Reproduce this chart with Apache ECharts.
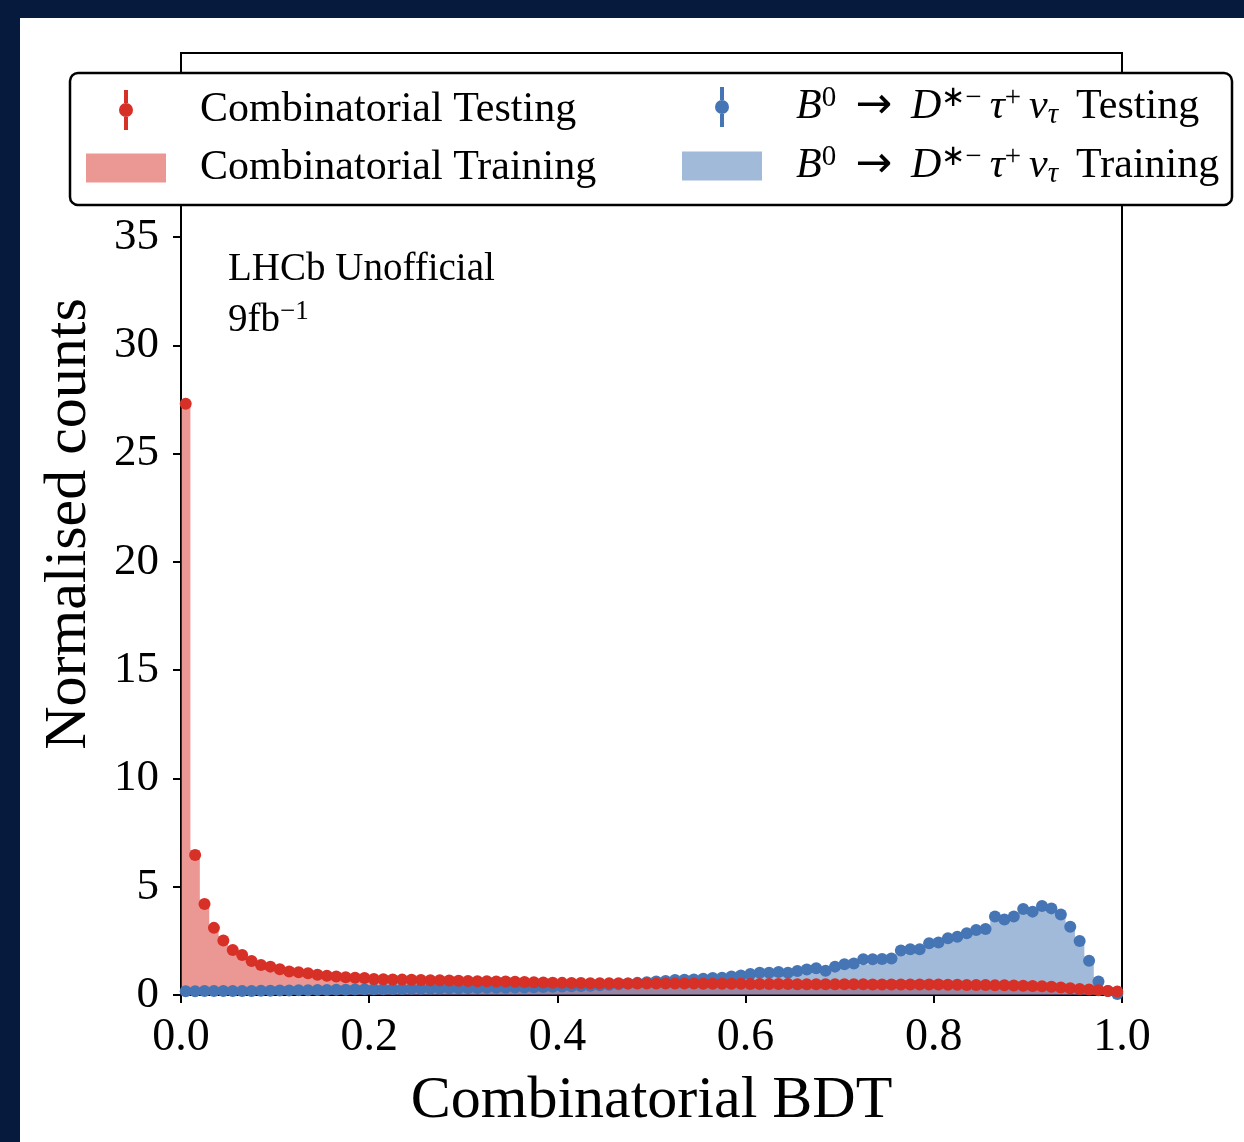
<!DOCTYPE html>
<html>
<head>
<meta charset="utf-8">
<script src="https://cdn.jsdelivr.net/npm/echarts@6/dist/echarts.min.js"></script>
<style>
html,body{margin:0;padding:0;background:#051a3d;}
#chart{width:1244px;height:1142px;}
</style>
</head>
<body>
<div id="chart"></div>
<script>
// ---- data (100 bins on [0,1]) ----
const nBins = 100;
const xTicks = [0.0, 0.2, 0.4, 0.6, 0.8, 1.0];
const yTicks = [0, 5, 10, 15, 20, 25, 30, 35, 40];

const redTest = [
  27.3, 6.46, 4.2, 3.1, 2.52, 2.08, 1.85, 1.57, 1.39, 1.31,
  1.19, 1.09, 1.05, 1.0, 0.94, 0.89, 0.85, 0.82, 0.80, 0.78,
  0.74, 0.73, 0.72, 0.71, 0.70, 0.69, 0.68, 0.68, 0.67, 0.66,
  0.65, 0.64, 0.63, 0.62, 0.62, 0.61, 0.60, 0.59, 0.58, 0.57,
  0.56, 0.55, 0.55, 0.54, 0.54, 0.54, 0.54, 0.53, 0.53, 0.53,
  0.53, 0.53, 0.53, 0.53, 0.53, 0.52, 0.52, 0.52, 0.52, 0.52,
  0.51, 0.51, 0.51, 0.51, 0.51, 0.50, 0.50, 0.50, 0.50, 0.50,
  0.50, 0.50, 0.50, 0.49, 0.49, 0.49, 0.49, 0.49, 0.48, 0.48,
  0.48, 0.47, 0.47, 0.46, 0.46, 0.46, 0.45, 0.45, 0.44, 0.43,
  0.42, 0.40, 0.38, 0.35, 0.31, 0.28, 0.25, 0.22, 0.19, 0.16
];
const redTrain = [
  27.4, 6.7, 4.4, 3.2, 2.6, 2.15, 1.85, 1.6, 1.42, 1.3,
  1.2, 1.1, 1.04, 0.99, 0.94, 0.9, 0.86, 0.82, 0.8, 0.77,
  0.75, 0.73, 0.72, 0.71, 0.70, 0.69, 0.68, 0.67, 0.66, 0.66,
  0.65, 0.64, 0.63, 0.62, 0.61, 0.61, 0.60, 0.59, 0.58, 0.57,
  0.56, 0.56, 0.55, 0.55, 0.54, 0.54, 0.54, 0.53, 0.53, 0.53,
  0.53, 0.53, 0.53, 0.52, 0.52, 0.52, 0.52, 0.52, 0.52, 0.51,
  0.51, 0.51, 0.51, 0.51, 0.50, 0.50, 0.50, 0.50, 0.50, 0.50,
  0.50, 0.50, 0.49, 0.49, 0.49, 0.49, 0.49, 0.48, 0.48, 0.48,
  0.48, 0.47, 0.47, 0.47, 0.46, 0.46, 0.45, 0.45, 0.44, 0.43,
  0.42, 0.40, 0.38, 0.35, 0.32, 0.28, 0.25, 0.22, 0.19, 0.15
];
const blueTest = [
  0.17, 0.17, 0.18, 0.18, 0.18, 0.19, 0.19, 0.19, 0.20, 0.20,
  0.21, 0.21, 0.22, 0.22, 0.23, 0.23, 0.24, 0.24, 0.25, 0.26,
  0.27, 0.27, 0.28, 0.28, 0.29, 0.29, 0.30, 0.30, 0.31, 0.31,
  0.32, 0.32, 0.33, 0.33, 0.34, 0.35, 0.35, 0.36, 0.37, 0.38,
  0.39, 0.40, 0.41, 0.43, 0.45, 0.47, 0.50, 0.53, 0.56, 0.59,
  0.62, 0.65, 0.69, 0.70, 0.72, 0.75, 0.78, 0.80, 0.85, 0.90,
  0.97, 1.03, 1.03, 1.06, 1.03, 1.11, 1.18, 1.23, 1.12, 1.31,
  1.42, 1.46, 1.65, 1.65, 1.66, 1.69, 2.05, 2.11, 2.11, 2.39,
  2.42, 2.62, 2.69, 2.85, 3.00, 3.05, 3.62, 3.49, 3.62, 3.97,
  3.85, 4.11, 4.00, 3.72, 3.15, 2.49, 1.58, 0.62, 0.18, 0.05
];
const blueTrain = [
  0.17, 0.17, 0.17, 0.18, 0.18, 0.19, 0.19, 0.20, 0.20, 0.20,
  0.21, 0.21, 0.22, 0.22, 0.23, 0.23, 0.24, 0.25, 0.25, 0.26,
  0.26, 0.27, 0.28, 0.28, 0.29, 0.29, 0.30, 0.30, 0.31, 0.31,
  0.32, 0.32, 0.33, 0.34, 0.34, 0.35, 0.35, 0.36, 0.37, 0.38,
  0.39, 0.40, 0.42, 0.43, 0.45, 0.47, 0.50, 0.52, 0.55, 0.58,
  0.61, 0.64, 0.67, 0.70, 0.72, 0.74, 0.77, 0.80, 0.84, 0.88,
  0.93, 0.97, 1.00, 1.03, 1.06, 1.09, 1.13, 1.17, 1.21, 1.26,
  1.31, 1.37, 1.42, 1.48, 1.55, 1.62, 1.85, 1.95, 2.05, 2.2,
  2.35, 2.5, 2.62, 2.78, 2.92, 3.0, 3.45, 3.5, 3.62, 3.85,
  3.85, 4.0, 3.95, 3.7, 3.2, 2.45, 1.45, 0.55, 0.15, 0.04
];

const nameRedTest = 'Combinatorial Testing';
const nameRedTrain = 'Combinatorial Training';
const nameBlueTest = 'B0 → D*−τ+ντ Testing';
const nameBlueTrain = 'B0 → D*−τ+ντ Training';

// ---- helpers ----
function stepData(arr) {
  const d = arr.map((v, i) => [i / nBins, v]);
  d.push([1, arr[arr.length - 1]]);
  return d;
}
function pointData(arr) {
  return arr.map((v, i) => [(i + 0.5) / nBins, v]);
}

const RED = '#d73027';
const BLUE = '#4575b4';
const FONT = 'Liberation Serif';

const chart = echarts.init(document.getElementById('chart'), null, {renderer: 'canvas'});

const errIcon = 'path://M-2,0 H2 V13 H-2 Z M-2,27 H2 V40 H-2 Z M-7,20 A7,7 0 1,1 7,20 A7,7 0 1,1 -7,20 Z';
const rectIcon = 'path://M0,0 H80 V29 H0 Z';

const FS = 42;
const rich = {
  gap: {width: 29, fontSize: FS, lineHeight: 46},
  n: {fontFamily: FONT, fontSize: FS, color: '#000', lineHeight: 46},
  sp: {fontFamily: FONT, fontSize: FS, color: '#000', lineHeight: 46, width: 19},
  sm: {fontFamily: FONT, fontSize: FS, color: '#000', lineHeight: 46, width: 8},
  tl: {fontFamily: FONT, fontSize: FS, color: '#000', lineHeight: 46, width: 18},
  ar: {fontFamily: 'DejaVu Sans', fontSize: 44, color: '#000', lineHeight: 46},
  it: {fontFamily: FONT, fontSize: FS, fontStyle: 'italic', color: '#000', lineHeight: 46},
  sup: {fontFamily: FONT, fontSize: 29, color: '#000', verticalAlign: 'top', lineHeight: 32},
  sub: {fontFamily: FONT, fontSize: 29, fontStyle: 'italic', color: '#000', verticalAlign: 'bottom', lineHeight: 28}
};
function legendFmt(name) {
  if (name === nameBlueTest || name === nameBlueTrain) {
    const tail = name === nameBlueTest ? 'Testing' : 'Training';
    return '{gap|}{it|B}{sup|0}{sp|}{ar|→}{sp|}{it|D}{sup|∗−}{sm|}{it|τ}{sup|+}{sm|}{it|ν}{sub|τ}{tl|}{n|' + tail + '}';
  }
  return '{gap|}{n|' + name + '}';
}

const option = {
  backgroundColor: '#051a3d',
  animation: false,
  textStyle: {fontFamily: FONT},
  graphic: [
    {type: 'rect', shape: {x: 20, y: 18, width: 1224, height: 1124}, style: {fill: '#ffffff'}, z: -10, silent: true},
    {type: 'rect', shape: {x: 70, y: 73, width: 1162, height: 132, r: 8}, style: {fill: '#ffffff', stroke: '#000', lineWidth: 2.5}, z: 50, zlevel: 1, silent: true},
    {type: 'text', left: 228, top: 250, style: {text: 'LHCb Unofficial', font: '39px "Liberation Serif"', fill: '#000'}, z: 5},
    {type: 'text', left: 228, top: 298,
      style: {text: '{a|9fb}{b|−1}', fill: '#000',
        rich: {a: {fontFamily: FONT, fontSize: 39, lineHeight: 46, color: '#000'},
               b: {fontFamily: FONT, fontSize: 27, lineHeight: 30, verticalAlign: 'top', color: '#000'}}}, z: 5}
  ],
  grid: {left: 181, top: 53, width: 941, height: 942, show: true, borderColor: '#000', borderWidth: 2, backgroundColor: 'transparent'},
  xAxis: {
    type: 'value', min: 0, max: 1, interval: 0.2,
    name: 'Combinatorial BDT', nameLocation: 'middle', nameGap: 76,
    nameTextStyle: {fontFamily: FONT, fontSize: 60, color: '#000'},
    axisLine: {show: true, lineStyle: {color: '#000', width: 2}},
    axisTick: {show: true, length: 8, lineStyle: {color: '#000', width: 2}, customValues: xTicks},
    axisLabel: {fontFamily: FONT, fontSize: 46, color: '#000', margin: 20, customValues: xTicks, formatter: v => v.toFixed(1)},
    splitLine: {show: false}
  },
  yAxis: {
    type: 'value', min: 0, max: 43.5, interval: 5,
    name: 'Normalised counts', nameLocation: 'middle', nameGap: 82, nameRotate: 90,
    nameTextStyle: {fontFamily: FONT, fontSize: 60, color: '#000'},
    axisLine: {show: true, lineStyle: {color: '#000', width: 2}},
    axisTick: {show: true, length: 8, lineStyle: {color: '#000', width: 2}, customValues: yTicks},
    axisLabel: {fontFamily: FONT, fontSize: 45, color: '#000', margin: 22, customValues: yTicks, formatter: v => String(v)},
    splitLine: {show: false}
  },
  legend: [
    {
      zlevel: 1, z: 60, orient: 'vertical', left: 86, top: 89, padding: 0, itemWidth: 80, itemHeight: 40, itemGap: 16,
      selectedMode: false, formatter: legendFmt, textStyle: {rich: rich, color: '#000'},
      data: [{name: nameRedTest, icon: errIcon}, {name: nameRedTrain, icon: rectIcon}]
    },
    {
      zlevel: 1, z: 60, orient: 'vertical', left: 682, top: 84, padding: 0, itemWidth: 80, itemHeight: 40, itemGap: 13,
      selectedMode: false, formatter: legendFmt, textStyle: {rich: rich, color: '#000'},
      data: [{name: nameBlueTest, icon: errIcon}, {name: nameBlueTrain, icon: rectIcon}]
    }
  ],
  series: [
    {
      name: nameRedTrain, type: 'line', step: 'end', data: stepData(redTrain), symbol: 'none',
      lineStyle: {width: 0, color: RED}, itemStyle: {color: 'rgba(215,48,39,0.5)'},
      areaStyle: {color: RED, opacity: 0.5}, z: 1, silent: true
    },
    {
      name: nameBlueTrain, type: 'line', step: 'end', data: stepData(blueTrain), symbol: 'none',
      lineStyle: {width: 0, color: BLUE}, itemStyle: {color: 'rgba(69,117,180,0.5)'},
      areaStyle: {color: BLUE, opacity: 0.5}, z: 1, silent: true
    },
    {
      name: nameBlueTest, type: 'scatter', data: pointData(blueTest), symbol: 'circle', symbolSize: 12,
      itemStyle: {color: BLUE, opacity: 1}, z: 3, silent: true
    },
    {
      name: nameRedTest, type: 'scatter', data: pointData(redTest), symbol: 'circle', symbolSize: 12,
      itemStyle: {color: RED, opacity: 1}, z: 4, silent: true
    }
  ]
};
chart.setOption(option);
</script>
</body>
</html>
